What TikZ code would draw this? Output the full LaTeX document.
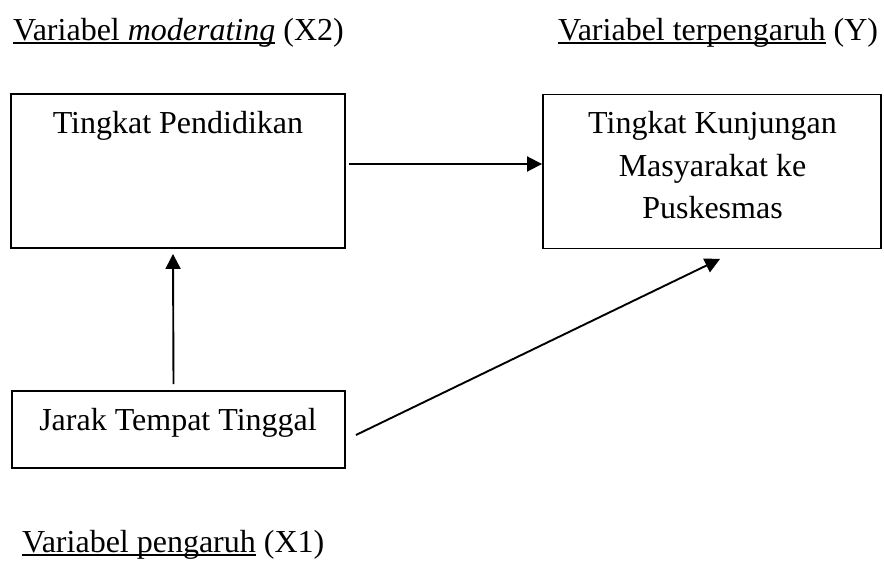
\documentclass[tikz,border=0pt]{standalone}
\usepackage{fontspec}
\setmainfont{Liberation Serif}
\usetikzlibrary{arrows.meta}
\newcommand{\myul}[1]{\setbox0\hbox{#1}\rlap{\rule[-3.8pt]{\wd0}{1.8pt}}\box0\relax}
\tikzset{
  boxnode/.style={draw, line width=1.9pt, inner sep=0pt},
  txt/.style={inner sep=0pt, font=\fontsize{32}{42.5}\selectfont},
  arr/.style={line width=1.9pt, -{Triangle[length=15pt,width=15pt]}}
}
\begin{document}
\begin{tikzpicture}[x=1pt,y=-1pt]
\useasboundingbox (0,0) rectangle (884,560);
% boxes
\node[boxnode, minimum width=334pt, minimum height=154pt] (b1) at (178,171) {};
\node[boxnode, minimum width=338pt, minimum height=154pt] (b2) at (712,171.5) {};
\node[boxnode, minimum width=333pt, minimum height=77pt] (b3) at (178.5,429.5) {};
% box texts
\node[txt, anchor=base] (t1) at (178,133) {Tingkat Pendidikan};
\node[txt, anchor=base] (t2a) at (712.5,133) {Tingkat Kunjungan};
\node[txt, anchor=base] (t2b) at (712.5,176) {Masyarakat ke};
\node[txt, anchor=base] (t2c) at (712.5,218) {Puskesmas};
\node[txt, anchor=base] (t3) at (178,430) {Jarak Tempat Tinggal};
% labels
\node[txt, anchor=base west] (l1) at (13,40) {\myul{Variabel \textit{moderating}} (X2)};
\node[txt, anchor=base west] (l2) at (558,40) {\myul{Variabel terpengaruh} (Y)};
\node[txt, anchor=base west] (l3) at (22,552) {\myul{Variabel pengaruh} (X1)};
% connectors
\draw[arr] ([xshift=3pt,yshift=7pt]b1.east) -- ([yshift=7.5pt]b2.west);
\draw[arr] ([xshift=-5pt,yshift=6pt]b3.north) -- ([xshift=-5pt,yshift=-5pt]b1.south);
\draw[arr] ([xshift=10pt,yshift=-5.5pt]b3.east) -- ([xshift=8pt,yshift=-9.5pt]b2.south);
\end{tikzpicture}
\end{document}
